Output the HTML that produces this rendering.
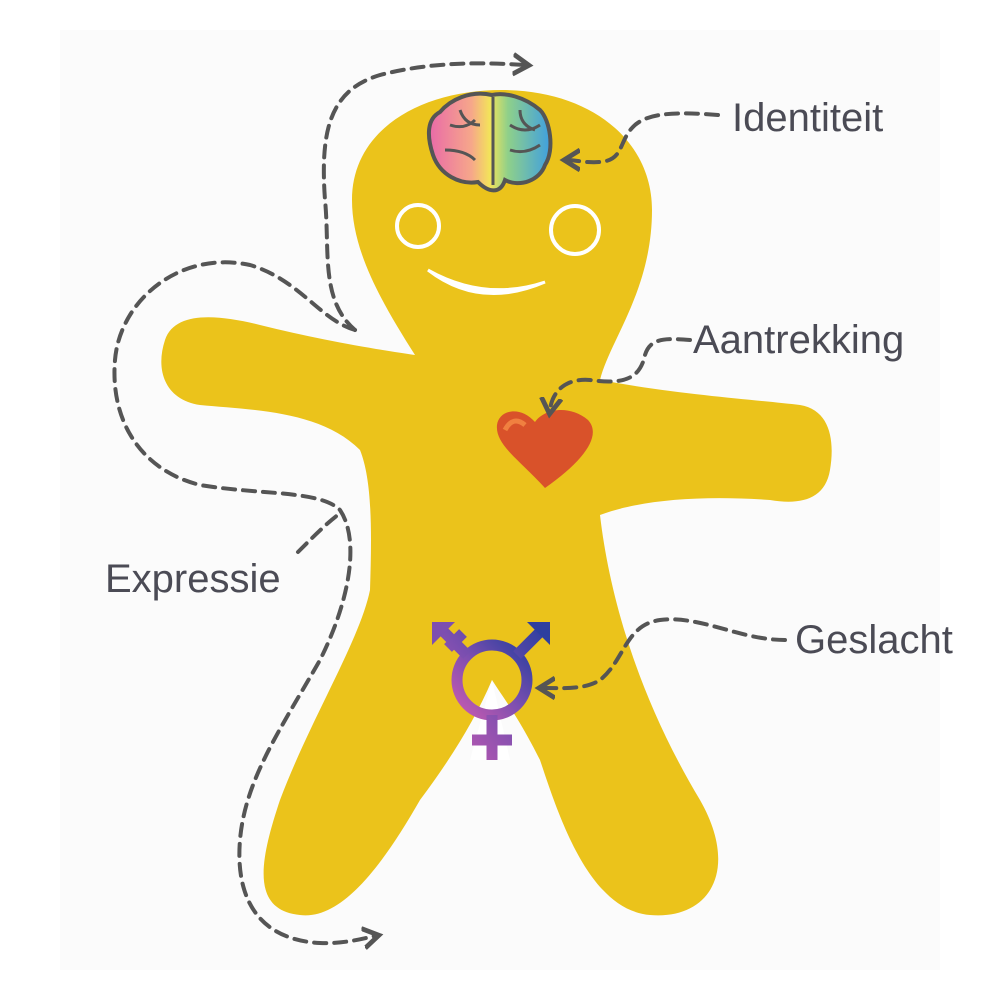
<!DOCTYPE html>
<html><head><style>
html,body{margin:0;padding:0;background:#fff;}
svg{display:block}
text{font-family:"Liberation Sans",sans-serif;fill:#4b4b55;font-size:40px;}
</style></head><body>
<svg width="1000" height="1000" viewBox="0 0 1000 1000">
<defs>
<linearGradient id="br" x1="0" x2="1"><stop offset="0" stop-color="#e96aa8"/><stop offset="0.35" stop-color="#f6a78a"/><stop offset="0.5" stop-color="#f3e35a"/><stop offset="0.65" stop-color="#8fd08a"/><stop offset="1" stop-color="#3f9fe0"/></linearGradient>
<linearGradient id="sy" x1="0" y1="1" x2="1" y2="0"><stop offset="0" stop-color="#c95bb0"/><stop offset="0.5" stop-color="#7d4fb0"/><stop offset="1" stop-color="#2e3f9f"/></linearGradient>
<marker id="ah" markerWidth="6" markerHeight="6" refX="3" refY="3" orient="auto" markerUnits="strokeWidth"><path d="M0,0.5 L4,3 L0,5.5" fill="none" stroke="#555" stroke-width="1.2"/></marker>
</defs>
<rect x="60" y="30" width="880" height="940" fill="#fbfbfb"/>
<path fill="#ebc31b" d="M415,355 C380,300 352,250 352,200 C352,130 420,90 502,90 C590,90 652,140 652,210 C652,290 610,340 600,380 C680,395 760,400 800,405 C830,410 835,440 830,470 C825,500 800,505 770,500 C700,495 640,500 600,515 C610,600 640,700 700,800 C740,870 710,920 650,915 C590,910 560,820 540,760 C520,720 505,700 492,680 C475,720 450,760 420,800 C380,870 340,920 300,915 C250,910 260,860 280,800 C310,720 360,640 370,590 C372,530 372,480 360,450 C320,410 250,410 200,405 C165,400 155,370 165,340 C175,310 220,315 260,325 C320,340 380,350 415,355 Z"/>
<path d="M492,680 L470,760 L510,760 Z" fill="#fff"/>
<!-- face -->
<circle cx="418" cy="226" r="21" fill="none" stroke="#fff" stroke-width="4"/>
<circle cx="575" cy="230" r="24" fill="none" stroke="#fff" stroke-width="4"/>
<path d="M428,270 Q480,310 545,282 Q485,302 428,270 Z" fill="#fff" stroke="#fff" stroke-width="3"/>
<!-- brain -->
<path d="M492,95 C470,90 450,100 440,112 C425,120 428,140 433,155 C440,175 460,185 478,182 C488,192 500,195 505,180 C520,188 540,180 545,165 C555,150 550,120 540,110 C525,97 505,92 492,95 Z" fill="url(#br)" stroke="#555" stroke-width="4"/>
<path d="M493,97 L493,185 M450,125 q15,5 25,-5 M445,150 q20,0 30,10 M510,125 q15,10 30,0 M510,150 q15,5 30,-5 M460,110 q5,15 20,15 M520,110 q0,15 15,20" fill="none" stroke="#555" stroke-width="3"/>
<!-- heart -->
<path d="M545,488 C520,460 495,445 497,425 C499,410 520,405 535,422 C545,408 570,405 588,420 C602,435 585,460 545,488 Z" fill="#d9522a"/>
<path d="M505,430 q8,-15 20,-5" stroke="#f08040" stroke-width="5" fill="none"/>
<!-- symbol -->
<g stroke="url(#sy)" stroke-width="11" fill="none">
<circle cx="492" cy="680" r="35"/>
<path d="M492,715 V760 M472,740 H512 M517,655 L545,627 M467,655 L440,628 M448,648 L463,633"/>
</g>
<path d="M527,622 L550,622 L550,645 Z" fill="#2e3f9f"/>
<path d="M432,622 L455,622 L432,645 Z" fill="#7d4fb0"/>
<!-- dashed connectors -->
<g fill="none" stroke="#555" stroke-width="4" stroke-dasharray="12 8" stroke-linecap="round">
<path d="M355,330 C320,300 330,250 325,200 C320,130 330,90 380,75 C430,62 480,62 525,65" marker-end="url(#ah)"/>
<path d="M355,330 C320,320 300,280 250,265 C180,250 120,300 115,360 C110,420 140,470 200,485 C260,495 320,490 340,510 C360,540 350,600 320,660 C280,730 245,780 240,840 C235,900 260,940 320,943 C345,944 365,938 375,936" marker-end="url(#ah)"/>
<path d="M718,115 C680,112 650,112 635,125 C618,140 625,160 600,162 C585,163 575,160 568,160" marker-end="url(#ah)"/>
<path d="M690,340 C665,338 650,338 645,355 C640,378 625,385 590,380 C565,378 552,392 550,410" marker-end="url(#ah)"/>
<path d="M785,640 C740,640 700,615 660,620 C625,625 625,660 600,680 C585,690 560,688 543,688" marker-end="url(#ah)"/>
<path d="M298,552 C315,535 330,520 342,512"/>
</g>
<text x="732" y="131">Identiteit</text>
<text x="693" y="353">Aantrekking</text>
<text x="795" y="653">Geslacht</text>
<text x="105" y="592">Expressie</text>
</svg>
</body></html>
